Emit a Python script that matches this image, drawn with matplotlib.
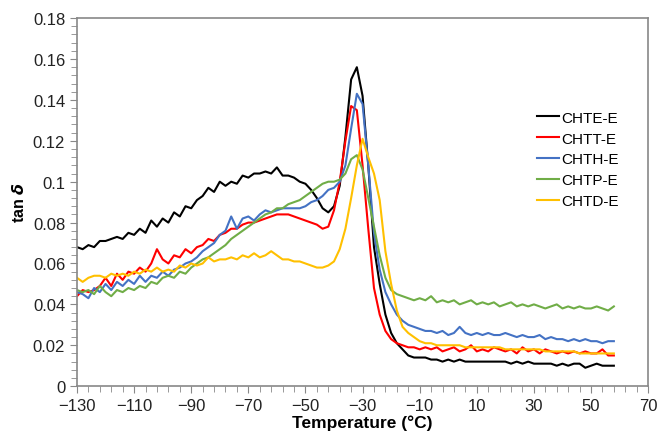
import matplotlib
matplotlib.use("Agg")
import matplotlib.pyplot as plt
from matplotlib.ticker import MultipleLocator, FuncFormatter
import numpy as np

plt.rcParams['font.family'] = ['Liberation Sans', 'DejaVu Sans']

temperature = list(range(-130, 60, 2))

chte_e = [0.068, 0.067, 0.069, 0.068, 0.071, 0.071, 0.072, 0.073, 0.072, 0.075,
          0.074, 0.077, 0.075, 0.081, 0.078, 0.082, 0.080, 0.085, 0.083, 0.088,
          0.087, 0.091, 0.093, 0.097, 0.095, 0.100, 0.098, 0.100, 0.099, 0.103,
          0.102, 0.104, 0.104, 0.105, 0.104, 0.107, 0.103, 0.103, 0.102, 0.100,
          0.099, 0.096, 0.092, 0.087, 0.085, 0.088, 0.098, 0.122, 0.150, 0.156,
          0.142, 0.108, 0.068, 0.050, 0.035, 0.026, 0.021, 0.018, 0.015, 0.014,
          0.014, 0.014, 0.013, 0.013, 0.012, 0.013, 0.012, 0.013, 0.012, 0.012,
          0.012, 0.012, 0.012, 0.012, 0.012, 0.012, 0.011, 0.012, 0.011, 0.012,
          0.011, 0.011, 0.011, 0.011, 0.010, 0.011, 0.010, 0.011, 0.011, 0.009,
          0.010, 0.011, 0.010, 0.010, 0.010]

chtt_e = [0.044, 0.047, 0.046, 0.047, 0.049, 0.053, 0.049, 0.055, 0.052, 0.056,
          0.055, 0.058, 0.056, 0.060, 0.067, 0.062, 0.060, 0.064, 0.063, 0.067,
          0.065, 0.068, 0.069, 0.072, 0.071, 0.074, 0.075, 0.077, 0.077, 0.079,
          0.080, 0.080, 0.081, 0.082, 0.083, 0.084, 0.084, 0.084, 0.083, 0.082,
          0.081, 0.080, 0.079, 0.077, 0.078, 0.086, 0.100, 0.120, 0.137, 0.135,
          0.108, 0.077, 0.048, 0.035, 0.027, 0.023, 0.021, 0.020, 0.019, 0.019,
          0.018, 0.019, 0.018, 0.019, 0.017, 0.018, 0.019, 0.017, 0.018, 0.020,
          0.017, 0.018, 0.017, 0.019, 0.018, 0.017, 0.018, 0.016, 0.019, 0.017,
          0.018, 0.016, 0.018, 0.017, 0.016, 0.017, 0.016, 0.017, 0.016, 0.017,
          0.016, 0.016, 0.018, 0.015, 0.015]

chth_e = [0.046, 0.045, 0.043, 0.048, 0.046, 0.050, 0.047, 0.051, 0.049, 0.052,
          0.050, 0.054, 0.051, 0.054, 0.053, 0.056, 0.054, 0.057, 0.058, 0.060,
          0.061, 0.063, 0.066, 0.068, 0.070, 0.074, 0.076, 0.083, 0.077, 0.082,
          0.083, 0.081, 0.084, 0.086, 0.085, 0.086, 0.087, 0.087, 0.087, 0.087,
          0.088, 0.090, 0.091, 0.093, 0.096, 0.097, 0.100, 0.108, 0.126, 0.143,
          0.138, 0.108, 0.075, 0.057, 0.046, 0.040, 0.035, 0.032, 0.030, 0.029,
          0.028, 0.027, 0.027, 0.026, 0.027, 0.025, 0.026, 0.029, 0.026, 0.025,
          0.026, 0.025, 0.026, 0.025, 0.025, 0.026, 0.025, 0.024, 0.025, 0.024,
          0.024, 0.025, 0.023, 0.024, 0.023, 0.023, 0.022, 0.023, 0.022, 0.023,
          0.022, 0.022, 0.021, 0.022, 0.022]

chtp_e = [0.047, 0.046, 0.047, 0.045, 0.049, 0.046, 0.044, 0.047, 0.046, 0.048,
          0.047, 0.049, 0.048, 0.051, 0.050, 0.053, 0.054, 0.053, 0.056, 0.055,
          0.058, 0.060, 0.062, 0.063, 0.065, 0.067, 0.069, 0.072, 0.074, 0.076,
          0.078, 0.080, 0.082, 0.084, 0.085, 0.087, 0.087, 0.089, 0.090, 0.091,
          0.093, 0.095, 0.097, 0.099, 0.100, 0.100, 0.101, 0.104, 0.111, 0.113,
          0.106, 0.092, 0.078, 0.064, 0.053, 0.047, 0.045, 0.044, 0.043, 0.042,
          0.043, 0.042, 0.044, 0.041, 0.042, 0.041, 0.042, 0.040, 0.041, 0.042,
          0.040, 0.041, 0.040, 0.041, 0.039, 0.040, 0.041, 0.039, 0.040, 0.039,
          0.040, 0.039, 0.038, 0.039, 0.040, 0.038, 0.039, 0.038, 0.039, 0.038,
          0.038, 0.039, 0.038, 0.037, 0.039]

chtd_e = [0.053, 0.051, 0.053, 0.054, 0.054, 0.053, 0.055, 0.054, 0.055, 0.054,
          0.056, 0.055, 0.057, 0.056, 0.058, 0.056, 0.057, 0.056, 0.059, 0.058,
          0.060, 0.059, 0.060, 0.063, 0.061, 0.062, 0.062, 0.063, 0.062, 0.064,
          0.063, 0.065, 0.063, 0.064, 0.066, 0.064, 0.062, 0.062, 0.061, 0.061,
          0.060, 0.059, 0.058, 0.058, 0.059, 0.061, 0.067, 0.077, 0.092, 0.108,
          0.121, 0.112, 0.104, 0.091, 0.066, 0.050, 0.037, 0.029, 0.026, 0.024,
          0.022, 0.021, 0.021, 0.020, 0.020, 0.020, 0.020, 0.020, 0.019, 0.019,
          0.019, 0.019, 0.019, 0.019, 0.019, 0.018, 0.018, 0.018, 0.018, 0.018,
          0.018, 0.018, 0.017, 0.017, 0.017, 0.017, 0.017, 0.017, 0.016, 0.016,
          0.016, 0.016, 0.016, 0.016, 0.016]

series = [("CHTE-E", chte_e, "#000000"),
          ("CHTT-E", chtt_e, "#FF0000"),
          ("CHTH-E", chth_e, "#4472C4"),
          ("CHTP-E", chtp_e, "#70AD47"),
          ("CHTD-E", chtd_e, "#FFC000")]

fig = plt.figure(figsize=(6.58, 4.35), dpi=100)
ax = fig.add_axes([0.117, 0.110, 0.868, 0.846])

for name, vals, col in series:
    ax.plot(temperature, vals, color=col, lw=1.5, label=name)

ax.set_xlim(-130, 70)
ax.set_ylim(0, 0.18)
ax.set_xticks(np.arange(-130, 71, 20))
ax.set_xticks(np.arange(-130, 71, 4), minor=True)
ax.yaxis.set_major_locator(MultipleLocator(0.02))
ax.yaxis.set_minor_locator(MultipleLocator(0.004))
ax.yaxis.set_major_formatter(FuncFormatter(lambda v, p: f"{v:.2f}".rstrip('0').rstrip('.') if abs(v) > 1e-9 else "0"))
ax.xaxis.set_major_formatter(FuncFormatter(lambda v, p: f"{int(round(v))}".replace('-', '\u2212')))

for s in ax.spines.values():
    s.set_color('#888888')
    s.set_linewidth(1.2)
ax.tick_params(which='both', direction='out', color='#888888', labelsize=12, labelcolor='#222222')
ax.tick_params(which='major', length=5)
ax.tick_params(which='minor', length=4)

ax.set_xlabel("Temperature (°C)", fontsize=12.5, fontweight='bold', labelpad=1)
ax.set_ylabel(r"tan $\boldsymbol{\delta}$", fontsize=11.5, fontweight='bold', labelpad=4)

leg = ax.legend(loc='upper left', bbox_to_anchor=(0.795, 0.765), frameon=False,
                fontsize=11, handlelength=1.4, handletextpad=0.15, labelspacing=0.45,
                borderaxespad=0)

fig.savefig("out.png", dpi=100)
